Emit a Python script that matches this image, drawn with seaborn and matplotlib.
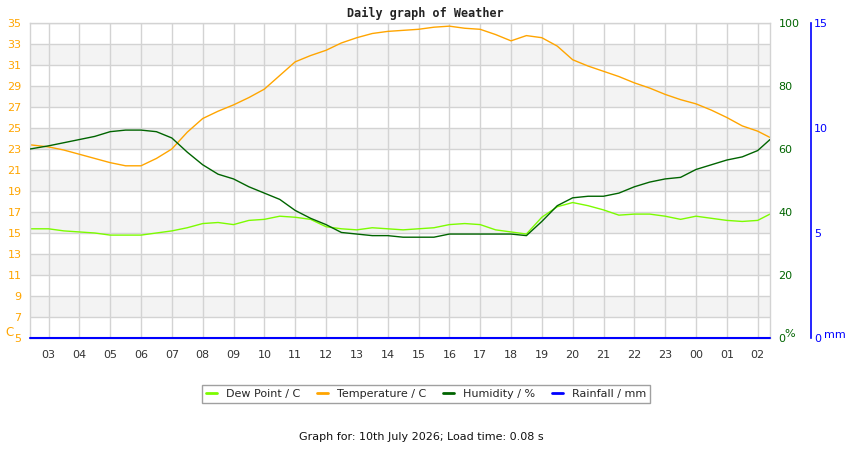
import numpy as np
import pandas as pd
import matplotlib
matplotlib.use("Agg")
import matplotlib.pyplot as plt
import seaborn as sns

# hours since midnight of the first day (24h window 02:24 -> 02:24)
hours = [2.4, 3.0, 3.5, 4.0, 4.5, 5.0, 5.5, 6.0, 6.5, 7.0, 7.5, 8.0, 8.5, 9.0, 9.5,
         10.0, 10.5, 11.0, 11.5, 12.0, 12.5, 13.0, 13.5, 14.0, 14.5, 15.0, 15.5,
         16.0, 16.5, 17.0, 17.5, 18.0, 18.5, 19.0, 19.5, 20.0, 20.5, 21.0, 21.5,
         22.0, 22.5, 23.0, 23.5, 24.0, 24.5, 25.0, 25.5, 26.0, 26.4]

temperature = [23.4, 23.2, 22.9, 22.5, 22.1, 21.7, 21.4, 21.4, 22.1, 23.0, 24.6,
               25.9, 26.6, 27.2, 27.9, 28.7, 30.0, 31.3, 31.9, 32.4, 33.1, 33.6,
               34.0, 34.2, 34.3, 34.4, 34.6, 34.7, 34.5, 34.4, 33.9, 33.3, 33.8,
               33.6, 32.8, 31.5, 30.9, 30.4, 29.9, 29.3, 28.8, 28.2, 27.7, 27.3,
               26.7, 26.0, 25.2, 24.7, 24.1]

dew_point = [15.4, 15.4, 15.2, 15.1, 15.0, 14.8, 14.8, 14.8, 15.0, 15.2, 15.5,
             15.9, 16.0, 15.8, 16.2, 16.3, 16.6, 16.5, 16.3, 15.6, 15.4, 15.3,
             15.5, 15.4, 15.3, 15.4, 15.5, 15.8, 15.9, 15.8, 15.3, 15.1, 14.9,
             16.5, 17.5, 17.9, 17.6, 17.2, 16.7, 16.8, 16.8, 16.6, 16.3, 16.6,
             16.4, 16.2, 16.1, 16.2, 16.8]

humidity = [60, 61, 62, 63, 64, 65.5, 66, 66, 65.5, 63.5, 59, 55, 52, 50.5, 48,
            46, 44, 40.5, 38, 36, 33.5, 33, 32.5, 32.5, 32, 32, 32, 33, 33, 33,
            33, 33, 32.5, 37, 42, 44.5, 45, 45, 46, 48, 49.5, 50.5, 51, 53.5, 55,
            56.5, 57.5, 59.5, 63]

rainfall = [0.0] * len(hours)

hour_ticks = list(range(3, 27))
hour_labels = ["%02d" % (h % 24) for h in hour_ticks]
temp_ticks = list(range(5, 36, 2))
hum_ticks = [0, 20, 40, 60, 80, 100]
rain_ticks = [0, 5, 10, 15]

df = pd.DataFrame({"hour": hours, "temperature": temperature, "dew_point": dew_point,
                   "humidity": humidity, "rainfall": rainfall})

ORANGE = "#FFA500"
LIME = "#7CFC00"
DGREEN = "#006400"
BLUE = "#0000FF"
GRID = "#D3D3D3"

sns.set_style("white")
plt.rcParams["font.family"] = ["DejaVu Sans"]

fig = plt.figure(figsize=(8.5, 4.5), dpi=100)
ax = fig.add_axes([30 / 850, 1 - 338 / 450, 740 / 850, 315 / 450])

# alternating background bands
for lo in range(7, 35, 4):
    ax.axhspan(lo, lo + 2, color="#F3F3F3", zorder=0, lw=0)
for y in temp_ticks:
    ax.axhline(y, color=GRID, lw=1, zorder=0.5)
for h in hour_ticks:
    ax.axvline(h, color=GRID, lw=1, zorder=0.5)

sns.lineplot(data=df, x="hour", y="dew_point", ax=ax, color=LIME, lw=1)
sns.lineplot(data=df, x="hour", y="temperature", ax=ax, color=ORANGE, lw=1)

ax.set_xlim(hours[0], hours[-1])
ax.set_ylim(5, 35)
ax.set_yticks(temp_ticks)
ax.set_yticklabels([str(t) for t in temp_ticks], color=ORANGE, fontsize=8)
ax.set_xticks(hour_ticks)
ax.set_xticklabels(hour_labels, color="#333333", fontsize=8)
ax.tick_params(axis="y", length=0, pad=6)
ax.tick_params(axis="x", length=0, pad=9)
ax.set_xlabel("")
ax.set_ylabel("")
for s in ax.spines.values():
    s.set_color(GRID)
    s.set_linewidth(1)

# humidity axis
ax_h = ax.twinx()
sns.lineplot(data=df, x="hour", y="humidity", ax=ax_h, color=DGREEN, lw=1)
ax_h.set_ylim(0, 100)
ax_h.set_yticks(hum_ticks)
ax_h.set_yticklabels([str(t) for t in hum_ticks], color=DGREEN, fontsize=8)
ax_h.tick_params(axis="y", length=0, pad=6)
ax_h.set_ylabel("")
ax_h.set_xlabel("")
for s in ax_h.spines.values():
    s.set_visible(False)

# rainfall axis
ax_r = ax.twinx()
ax_r.spines["right"].set_position(("axes", (811 - 30) / 740))
sns.lineplot(data=df, x="hour", y="rainfall", ax=ax_r, color=BLUE, lw=1.5,
             clip_on=False, zorder=5)
ax_r.set_ylim(0, 15)
ax_r.set_yticks(rain_ticks)
ax_r.set_yticklabels([str(t) for t in rain_ticks], color=BLUE, fontsize=8)
ax_r.tick_params(axis="y", length=0, pad=2)
ax_r.set_ylabel("")
ax_r.set_xlabel("")
for k, s in ax_r.spines.items():
    s.set_visible(k == "right")
ax_r.spines["right"].set_color(BLUE)
ax_r.spines["right"].set_linewidth(1.2)
ax_r.set_xlim(hours[0], hours[-1])

fig.text(5 / 850, 1 - 333 / 450, "C", color=ORANGE, fontsize=8.5, va="center")
fig.text(784 / 850, 1 - 334 / 450, "%", color=DGREEN, fontsize=8, va="center")
fig.text(824 / 850, 1 - 335 / 450, "mm", color=BLUE, fontsize=8, va="center")

fig.text(0.5, 1 - 13 / 450, "Daily graph of Weather", ha="center", va="center",
         fontsize=8.5, family="DejaVu Sans Mono", weight="bold", color="#222222")

handles = [plt.Line2D([], [], color=c, lw=2) for c in (LIME, ORANGE, DGREEN, BLUE)]
labels = ["Dew Point / C", "Temperature / C", "Humidity / %", "Rainfall / mm"]
leg = fig.legend(handles, labels, loc="center", bbox_to_anchor=(426 / 850, 1 - 394 / 450),
                 ncol=4, fontsize=8, frameon=True, fancybox=False, handlelength=1,
                 handletextpad=0.8, columnspacing=1.5, borderpad=0.4)
leg.get_frame().set_edgecolor("#888888")
leg.get_frame().set_linewidth(1)

fig.text(421 / 850, 1 - 437 / 450, "Graph for: 10th July 2026; Load time: 0.08 s",
         ha="center", va="center", fontsize=8, color="#111111")

fig.savefig("out.png", dpi=100)
